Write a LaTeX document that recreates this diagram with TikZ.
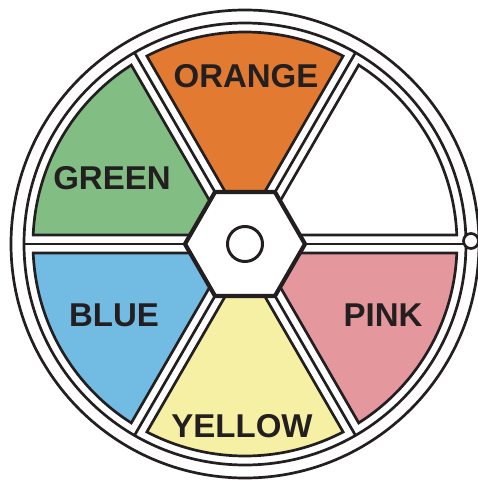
\documentclass[tikz,border=0pt]{standalone}
\usepackage{fontspec}
\setmainfont{Liberation Sans}
\definecolor{orangeseg}{RGB}{226,122,50}
\definecolor{greenseg}{RGB}{130,189,132}
\definecolor{blueseg}{RGB}{114,187,227}
\definecolor{pinkseg}{RGB}{229,151,158}
\definecolor{yellowseg}{RGB}{245,240,163}
\definecolor{ink}{RGB}{35,31,32}
\tikzset{
  ring/.style={draw=ink,line width=2.7pt},
  spoke/.style={draw=ink,line width=2.7pt},
  segment/.style={draw=ink,line width=2.7pt,line join=miter},
  label/.style={text=ink,font=\fontsize{33}{33}\selectfont\bfseries}
}
\begin{document}
\begin{tikzpicture}[x=1pt,y=1pt]
\useasboundingbox (-245,-239) rectangle (233,244);

% rim
\draw[ring] (0,0) circle[radius=234pt];
\draw[ring] (0,0) circle[radius=221pt];

% spokes
\foreach \a in {0,60,...,300}
  \draw[spoke] (\a:60) -- (\a:221);

% coloured segments
\foreach \a/\col in {90/orangeseg,150/greenseg,210/blueseg,270/yellowseg,330/pinkseg,30/white}
  \draw[segment,fill=\col,rotate=\a-90] (19.61,51.96) -- (98.11,187.93)
    arc[start angle=62.43,end angle=117.57,radius=212pt] -- (-19.61,51.96) -- cycle;

% hub
\draw[draw=ink,fill=white,line width=4.2pt,line join=miter]
  (0:60) -- (60:60) -- (120:60) -- (180:60) -- (240:60) -- (300:60) -- cycle;
\draw[draw=ink,fill=white,line width=3pt] (0,0) circle[radius=17.5pt];

% knob on the rim
\draw[draw=ink,fill=white,line width=2.7pt] (226,3) circle[radius=7.5pt];

\node[label] (orange) at (1,168) {ORANGE};
\node[label] (green) at (-133,66) {GREEN};
\node[label] (blue) at (-131,-71) {BLUE};
\node[label] (pink) at (138,-71) {PINK};
\node[label] (yellow) at (-3,-182) {YELLOW};
\end{tikzpicture}
\end{document}
